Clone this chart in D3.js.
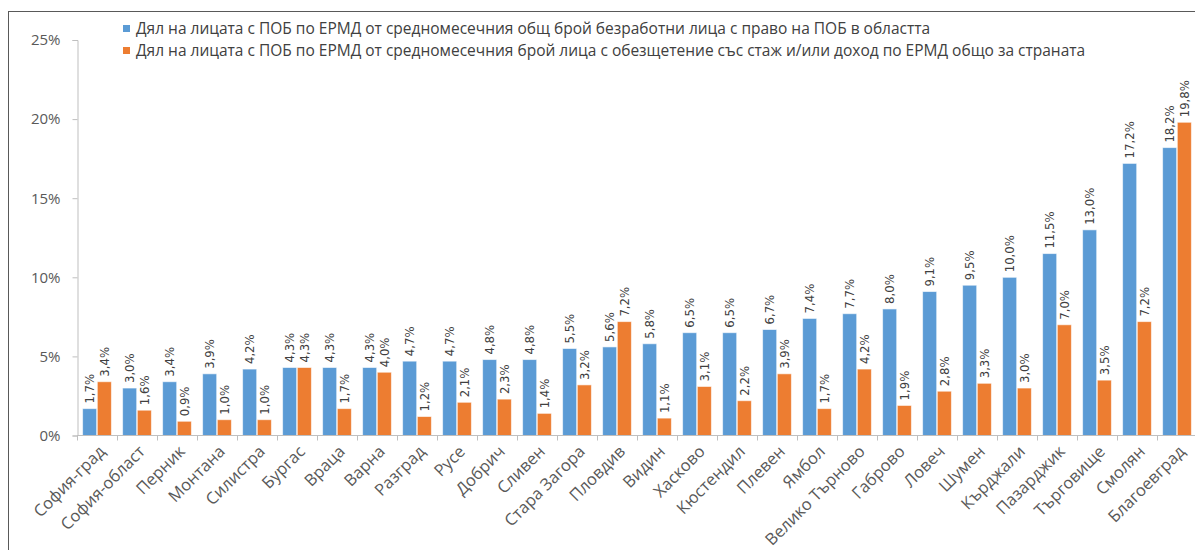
<!DOCTYPE html>
<html>
<head>
<meta charset="utf-8">
<script src="https://cdnjs.cloudflare.com/ajax/libs/d3/7.8.5/d3.min.js"></script>
<style>
  body { margin: 0; background: #fff; }
  svg { display: block; }
  .axis text { font-family: "Open Sans", sans-serif; fill: #595959; }
  .lbl { font-family: "Liberation Sans Narrow", "DejaVu Sans Condensed", sans-serif; font-size: 13px; fill: #404040; }
</style>
</head>
<body>
<svg id="chart" width="1195" height="550"></svg>
<script>
// области
var regions = ["София-град", "София-област", "Перник", "Монтана", "Силистра", "Бургас", "Враца", "Варна",
  "Разград", "Русе", "Добрич", "Сливен", "Стара Загора", "Пловдив", "Видин", "Хасково", "Кюстендил",
  "Плевен", "Ямбол", "Велико Търново", "Габрово", "Ловеч", "Шумен", "Кърджали", "Пазарджик",
  "Търговище", "Смолян", "Благоевград"];

// дял спрямо областта (%)
var shareRegion = [1.7, 3.0, 3.4, 3.9, 4.2, 4.3, 4.3, 4.3, 4.7, 4.7, 4.8, 4.8, 5.5, 5.6, 5.8, 6.5, 6.5,
  6.7, 7.4, 7.7, 8.0, 9.1, 9.5, 10.0, 11.5, 13.0, 17.2, 18.2];

// дял спрямо страната (%)
var shareCountry = [3.4, 1.6, 0.9, 1.0, 1.0, 4.3, 1.7, 4.0, 1.2, 2.1, 2.3, 1.4, 3.2, 7.2, 1.1, 3.1, 2.2,
  3.9, 1.7, 4.2, 1.9, 2.8, 3.3, 3.0, 7.0, 3.5, 7.2, 19.8];

var seriesNames = [
  "Дял на лицата с ПОБ по ЕРМД от средномесечния общ брой безработни лица с право на ПОБ в областта",
  "Дял на лицата с ПОБ по ЕРМД от средномесечния брой лица с обезщетение със стаж и/или доход по ЕРМД общо за страната"
];
var seriesColors = ["#5B9BD5", "#ED7D31"];

var yTicks = [0, 5, 10, 15, 20, 25];

var data = regions.map(function (r, i) {
  return { region: r, values: [shareRegion[i], shareCountry[i]] };
});

var svg = d3.select("#chart");

// рамка
svg.append("rect")
  .attr("x", 8.5).attr("y", 11.5)
  .attr("width", 1200).attr("height", 600)
  .attr("fill", "none").attr("stroke", "#595959");

var x0 = d3.scaleBand().domain(regions).range([77, 1197]).paddingInner(0.25).paddingOuter(0.125);
var x1 = d3.scaleBand().domain([0, 1]).range([0, x0.bandwidth()]).padding(0.04);
var y = d3.scaleLinear().domain([0, 25]).range([435.5, 40]);

// ос Y
var yAxis = svg.append("g")
  .attr("class", "axis")
  .attr("transform", "translate(77.5,0)")
  .call(d3.axisLeft(y).tickValues(yTicks).tickSize(5).tickPadding(12).tickFormat(function (d) { return d + "%"; }));
yAxis.selectAll("path, line").attr("stroke", "#BFBFBF");
yAxis.selectAll("text").style("font-size", "15px");

// стълбове
var groups = svg.selectAll(".grp")
  .data(data)
  .enter().append("g")
  .attr("class", "grp")
  .attr("transform", function (d) { return "translate(" + x0(d.region) + ",0)"; });

groups.selectAll("rect")
  .data(function (d) { return d.values.map(function (v, k) { return { k: k, v: v }; }); })
  .enter().append("rect")
  .attr("x", function (d) { return x1(d.k); })
  .attr("width", x1.bandwidth())
  .attr("y", function (d) { return y(d.v); })
  .attr("height", function (d) { return y(0) - y(d.v); })
  .attr("fill", function (d) { return seriesColors[d.k]; })
  .attr("stroke", "#fff")
  .attr("stroke-opacity", 0.6)
  .attr("stroke-width", 1);

groups.selectAll(".lbl")
  .data(function (d) { return d.values.map(function (v, k) { return { k: k, v: v }; }); })
  .enter().append("text")
  .attr("class", "lbl")
  .attr("transform", function (d) {
    return "translate(" + (x1(d.k) + x1.bandwidth() / 2) + "," + (y(d.v) - 5) + ") rotate(-90)";
  })
  .attr("dy", "0.35em")
  .text(function (d) { return d.v.toFixed(1).replace(".", ",") + "%"; });

// ос X
var xAxis = svg.append("g")
  .attr("class", "axis")
  .attr("transform", "translate(0,435.5)");
xAxis.append("line")
  .attr("x1", 77).attr("x2", 1197)
  .attr("stroke", "#BFBFBF");
xAxis.selectAll(".tk")
  .data(regions.concat([null]))
  .enter().append("line")
  .attr("x1", function (d, i) { return Math.round(x0.range()[0] + i * x0.step()) + 0.5; })
  .attr("x2", function (d, i) { return Math.round(x0.range()[0] + i * x0.step()) + 0.5; })
  .attr("y1", 0).attr("y2", 5)
  .attr("stroke", "#BFBFBF");
xAxis.selectAll(".xl")
  .data(regions)
  .enter().append("text")
  .attr("transform", function (d) {
    return "translate(" + (x0(d) + x0.bandwidth() / 2 + 5) + ",13) rotate(-45)";
  })
  .attr("text-anchor", "end")
  .attr("dy", "0.35em")
  .style("font-size", "16.5px")
  .text(function (d) { return d; });

// легенда
var legend = svg.selectAll(".leg")
  .data(seriesNames)
  .enter().append("g")
  .attr("transform", function (d, i) { return "translate(123," + (29 + i * 22) + ")"; });
legend.append("rect")
  .attr("x", 0).attr("y", -4)
  .attr("width", 7).attr("height", 7)
  .attr("fill", function (d, i) { return seriesColors[i]; });
legend.append("text")
  .attr("x", 13)
  .attr("dy", "0.35em")
  .style("font-family", "'Open Sans', sans-serif")
  .style("font-size", "15.5px")
  .style("fill", "#404040")
  .text(function (d) { return d; });
</script>
</body>
</html>
